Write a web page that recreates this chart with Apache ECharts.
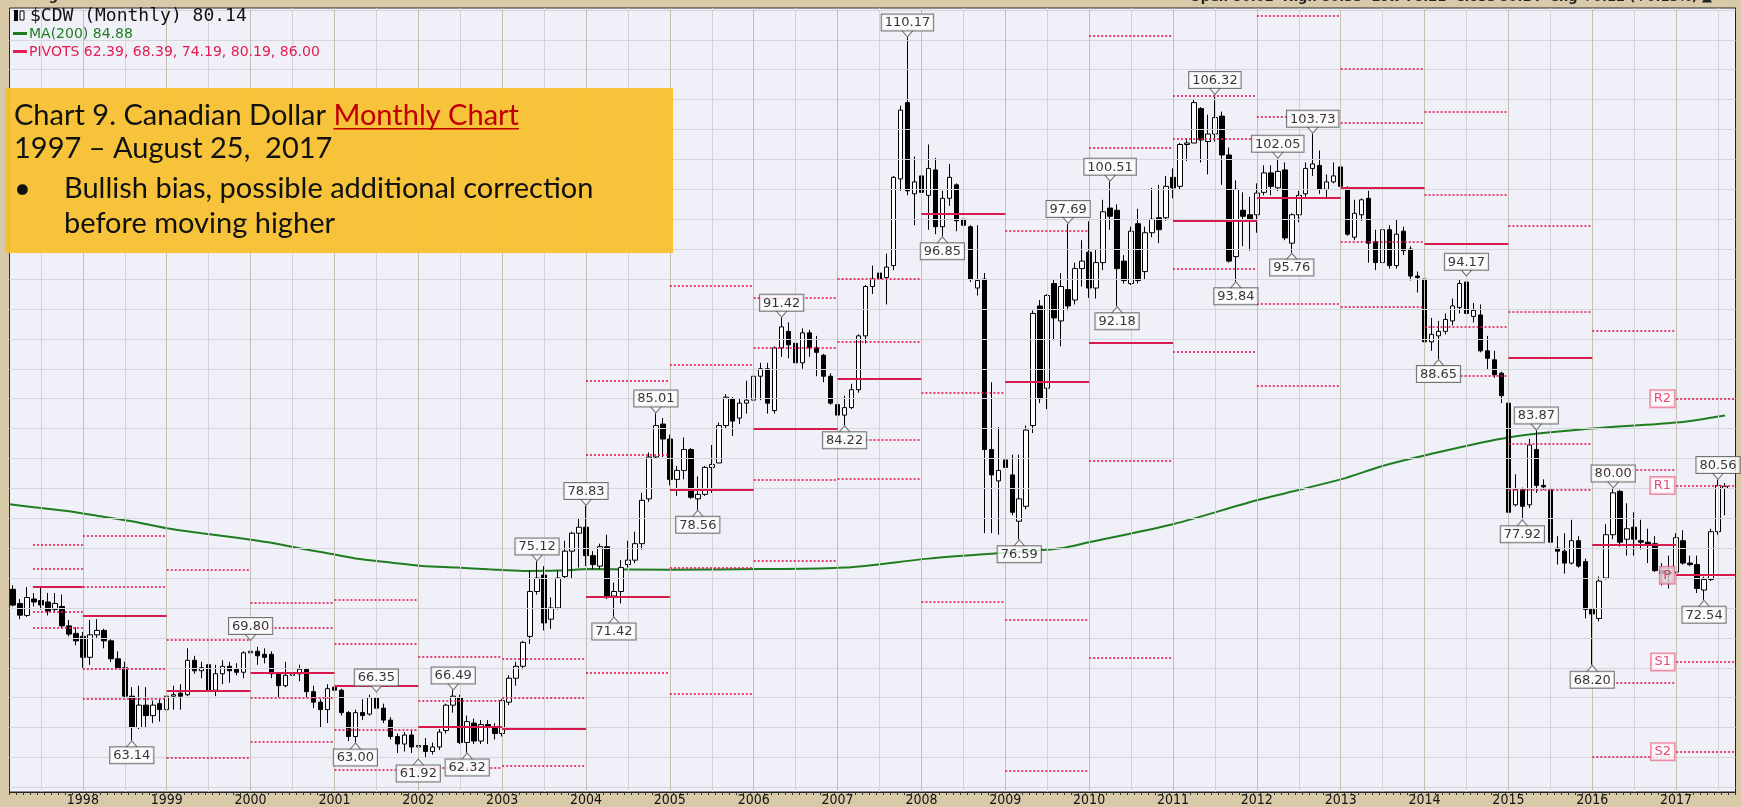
<!DOCTYPE html>
<html>
<head>
<meta charset="utf-8">
<title>$CDW Monthly</title>
<script src="https://cdn.jsdelivr.net/npm/echarts@6/dist/echarts.min.js"></script>
<style>
  html, body { margin: 0; padding: 0; background: #d8c9a8; }
  #chart { width: 1741px; height: 807px; }
</style>
</head>
<body>
<div id="chart"></div>
<script>
// Monthly candles, Mar 1997 .. Aug 2017, one row per year
const opens = [
  73.25, 72.3, 71.5, 72.6, 72.5, 72.4, 71.9, 72.1, 70.8, 70.3,
  70.1, 68.7, 70.2, 70.5, 69.8, 68.6, 68.0, 66.1, 64.0, 65.5, 64.8, 65.6,
  65.2, 66.1, 66.3, 66.2, 68.5, 67.8, 68.2, 66.5, 67.6, 68.1, 67.9, 67.7,
  69.0, 69.1, 68.9, 68.9, 67.6, 66.8, 67.5, 67.6, 67.9, 66.4, 65.7, 65.2,
  66.7, 66.5, 65.0, 63.4, 65.0, 64.9, 66.0, 65.3, 64.5, 63.4, 62.9, 63.5,
  62.7, 62.8, 62.4, 62.7, 63.8, 65.5, 66.0, 63.0, 64.3, 63.1, 64.2, 64.0,
  63.6, 65.7, 67.3, 68.1, 70.1, 73.1, 74.2, 71.25, 72.0, 74.1, 75.8, 77.0,
  77.4, 75.5, 74.8, 76.1, 72.8, 73.1, 74.9, 75.2, 76.3, 79.3, 82.1, 84.3,
  83.3, 80.6, 81.2, 82.6, 79.3, 79.6, 81.4, 81.7, 84.2, 86.0, 84.7, 85.7,
  85.9, 87.5, 88.0, 85.2, 89.4, 90.5, 89.7, 88.4, 90.4, 89.4, 88.9, 87.5,
  85.6, 84.9, 85.4, 86.6, 90.2, 93.5, 94.4, 94.1, 94.9, 100.7, 105.8, 99.7,
  100.9, 99.6, 101.3, 97.5, 99.4, 100.3, 98.0, 97.5, 93.4, 94.0, 82.6, 80.5,
  81.9, 80.9, 77.8, 78.8, 84.2, 92.2, 86.7, 93.7, 91.2, 93.3, 92.6, 94.7,
  95.8, 93.4, 95.1, 98.75, 98.6, 95.2, 93.7, 97.7, 94.5, 97.1, 98.1, 98.1,
  100.8, 100.2, 103.0, 103.1, 105.4, 103.2, 103.7, 104.9, 102.3, 95.5, 98.6, 98.3,
  98.3, 99.8, 101.1, 100.1, 101.3, 96.4, 98.3, 99.7, 101.4, 101.6, 100.0, 100.5,
  101.5, 100.1, 96.8, 98.3, 99.4, 96.5, 95.1, 97.3, 94.9, 97.2, 96.0, 94.2,
  94.0, 89.8, 90.2, 90.5, 91.2, 92.1, 93.8, 91.5, 91.6, 89.2, 88.6, 87.7,
  85.7, 78.9, 79.9, 78.9, 82.6, 80.2, 79.9, 76.0, 75.8, 75.0, 76.5, 75.1,
  71.9, 71.3, 74.0, 76.9, 79.8, 76.6, 77.4, 76.5, 76.4, 76.3, 74.5, 74.3,
  74.4, 76.5, 75.0, 74.9, 73.2, 73.9, 77.1, 80.0
];
const highs = [
  73.52, 72.6, 73.4, 73.0, 73.4, 73.0, 73.0, 72.9, 71.2, 70.7,
  70.4, 71.2, 71.25, 70.6, 69.9, 69.1, 68.4, 66.7, 66.8, 66.7, 65.8, 65.9,
  66.4, 66.8, 66.9, 69.3, 68.8, 68.4, 68.5, 68.2, 68.5, 68.4, 68.3, 69.1,
  69.8, 69.4, 69.3, 69.1, 67.7, 68.4, 68.3, 68.2, 68.0, 66.8, 65.9, 66.9,
  67.0, 66.6, 65.1, 65.2, 65.9, 66.2, 66.35, 65.6, 64.7, 63.6, 63.7, 63.8,
  63.2, 63.3, 63.0, 63.9, 65.6, 66.49, 66.2, 64.8, 64.6, 64.5, 64.5, 64.3,
  65.9, 67.5, 68.4, 69.8, 74.5, 75.12, 74.8, 72.7, 74.5, 76.5, 77.1, 78.0,
  78.83, 75.8, 76.3, 76.9, 73.7, 75.2, 76.5, 77.1, 79.7, 82.4, 85.01, 84.7,
  83.6, 81.5, 83.4, 82.7, 80.8, 81.5, 82.9, 84.4, 86.3, 86.1, 86.0, 87.2,
  87.7, 88.4, 88.4, 89.5, 91.42, 91.1, 90.2, 90.7, 90.6, 90.2, 89.0, 87.7,
  85.9, 86.2, 87.0, 90.3, 93.6, 94.9, 96.7, 95.7, 100.9, 105.6, 110.17, 102.2,
  101.4, 103.0, 102.1, 99.9, 101.7, 100.4, 100.2, 97.6, 97.6, 94.4, 87.1, 84.1,
  85.1, 82.25, 82.25, 84.2, 91.9, 92.6, 92.99, 94.0, 94.4, 97.69, 95.1, 96.6,
  97.86, 96.0, 99.3, 100.51, 99.0, 95.6, 97.5, 98.7, 97.5, 100.1, 100.3, 100.9,
  101.4, 103.1, 103.4, 106.0, 105.5, 105.0, 106.32, 105.2, 102.8, 100.6, 99.8, 99.5,
  100.4, 101.6, 101.6, 102.05, 101.8, 98.4, 99.9, 101.8, 103.73, 102.6, 101.0, 101.8,
  102.0, 100.2, 99.3, 99.4, 99.9, 97.3, 97.4, 97.6, 98.0, 97.5, 96.2, 94.5,
  94.5, 91.4, 91.2, 91.7, 92.7, 94.0, 94.17, 92.4, 92.3, 90.2, 89.2, 87.8,
  86.0, 80.94, 80.05, 83.3, 83.87, 80.6, 80.05, 76.8, 77.0, 77.9, 76.8, 75.3,
  72.0, 74.1, 77.6, 80.0, 79.9, 79.0, 78.4, 77.9, 77.3, 76.8, 75.0, 75.5,
  77.0, 77.2, 75.5, 75.5, 74.1, 77.3, 80.56, 80.35
];
const lows = [
  72.1, 71.25, 71.4, 72.1, 71.9, 71.5, 71.7, 70.7, 70.1, 69.5,
  68.0, 68.2, 70.0, 69.3, 68.4, 67.9, 66.0, 63.14, 63.9, 64.0, 64.3, 64.4,
  64.8, 65.2, 65.2, 66.1, 67.6, 67.3, 65.9, 66.1, 66.9, 67.0, 67.5, 67.3,
  68.4, 68.2, 68.3, 67.3, 66.0, 66.7, 66.9, 67.1, 66.0, 65.3, 64.0, 64.3,
  65.6, 64.8, 63.1, 63.0, 64.5, 64.8, 65.0, 64.3, 63.2, 62.3, 62.4, 62.3,
  61.92, 62.0, 62.2, 62.5, 63.6, 65.0, 62.9, 62.32, 62.9, 62.9, 62.9, 63.2,
  63.4, 65.5, 66.8, 67.9, 69.6, 72.9, 70.5, 70.6, 71.9, 74.0, 74.0, 74.7,
  74.8, 74.6, 74.6, 72.6, 71.42, 72.3, 74.7, 75.0, 75.9, 79.1, 82.0, 82.1,
  80.2, 79.5, 80.6, 79.3, 78.56, 79.5, 79.7, 81.7, 84.0, 83.5, 84.3, 85.0,
  84.8, 85.9, 85.0, 85.0, 88.8, 88.7, 87.3, 88.0, 88.8, 87.5, 87.1, 85.6,
  84.5, 84.22, 85.3, 86.4, 89.7, 93.0, 93.0, 92.3, 94.6, 99.9, 99.6, 97.6,
  96.8, 97.3, 97.0, 96.85, 98.9, 97.2, 96.9, 93.8, 92.9, 77.0, 77.0, 76.9,
  78.4, 78.2, 76.59, 78.6, 83.7, 85.7, 85.3, 89.9, 89.5, 91.9, 92.3, 93.5,
  92.74, 92.7, 94.6, 97.3, 92.18, 93.7, 93.6, 93.7, 93.96, 96.8, 96.4, 97.9,
  99.4, 99.97, 101.9, 103.1, 101.8, 101.0, 103.2, 100.3, 95.1, 93.84, 96.2, 95.9,
  97.1, 99.6, 99.6, 99.9, 96.6, 95.76, 97.8, 99.5, 100.9, 99.7, 99.4, 100.4,
  99.97, 96.9, 96.6, 97.9, 95.1, 94.6, 94.8, 94.7, 94.7, 95.6, 93.9, 93.1,
  89.1, 89.2, 88.65, 90.3, 90.9, 91.7, 91.6, 91.1, 89.1, 87.95, 87.4, 85.7,
  78.15, 78.8, 77.92, 78.7, 79.7, 79.9, 76.26, 74.9, 74.3, 74.9, 74.7, 71.3,
  68.2, 71.1, 73.9, 76.6, 76.1, 75.5, 75.5, 75.9, 75.0, 74.4, 73.5, 73.3,
  74.3, 74.9, 74.8, 73.0, 72.54, 73.8, 76.9, 78.2
];
const closes = [
  72.19, 71.52, 72.7, 72.4, 72.2, 71.8, 72.3, 70.8, 70.25, 69.8,
  68.7, 70.2, 70.5, 69.8, 68.6, 68.0, 66.1, 64.0, 65.5, 64.8, 65.5, 65.2,
  66.1, 66.2, 66.1, 68.5, 67.8, 68.0, 66.5, 67.6, 68.1, 67.8, 67.7, 69.0,
  69.1, 68.8, 68.7, 67.6, 66.8, 67.5, 67.6, 67.9, 66.4, 65.7, 65.2, 66.6,
  66.5, 65.0, 63.4, 65.0, 64.8, 66.0, 65.3, 64.5, 63.4, 62.9, 63.5, 62.7,
  62.8, 62.4, 62.7, 63.7, 65.5, 66.1, 63.0, 64.4, 63.1, 64.2, 64.0, 63.6,
  65.8, 67.3, 68.1, 69.7, 73.1, 74.0, 71.0, 72.0, 74.0, 75.8, 77.0, 77.4,
  75.5, 74.9, 76.1, 72.8, 73.1, 74.7, 75.2, 76.3, 79.2, 82.1, 84.2, 83.3,
  80.6, 81.2, 82.6, 79.4, 79.6, 81.4, 81.6, 84.2, 86.1, 84.5, 85.7, 85.9,
  87.5, 88.0, 85.7, 89.4, 90.8, 89.6, 88.4, 90.4, 89.4, 89.1, 87.5, 85.7,
  84.9, 85.4, 86.6, 90.2, 93.5, 94.0, 94.0, 94.8, 100.8, 105.3, 99.9, 100.5,
  99.8, 101.4, 97.5, 99.4, 100.8, 97.9, 97.6, 94.0, 93.9, 82.6, 80.9, 81.2,
  81.4, 78.4, 79.3, 83.9, 91.7, 86.0, 92.9, 91.4, 93.5, 92.2, 94.7, 95.2,
  93.4, 95.1, 98.5, 98.2, 94.7, 93.9, 97.2, 93.9, 97.1, 98.0, 97.3, 100.2,
  100.1, 103.0, 103.1, 105.8, 103.3, 103.7, 104.8, 102.3, 95.2, 100.0, 98.2, 97.9,
  99.75, 101.1, 100.2, 101.2, 96.75, 98.3, 99.6, 101.4, 101.7, 100.0, 100.5, 100.9,
  100.2, 97.0, 98.4, 99.3, 96.4, 95.1, 97.3, 94.9, 97.0, 95.9, 94.2, 94.1,
  89.8, 90.3, 90.5, 91.3, 92.2, 93.7, 91.7, 91.9, 89.2, 88.7, 87.6, 86.2,
  78.4, 79.9, 78.8, 82.9, 80.2, 80.1, 76.4, 75.8, 75.0, 76.5, 74.8, 71.9,
  71.6, 73.8, 76.9, 79.7, 76.4, 77.3, 76.6, 76.4, 76.2, 74.5, 74.3, 74.4,
  76.7, 75.0, 74.9, 73.3, 73.9, 77.1, 80.2, 80.14
];

// MA(200) line, read at these month indexes (0 = Jan 1997)
const maMonths = [1.5, 5, 10, 14.5, 19, 24, 29, 33.5, 38.5, 43, 46.5, 51, 56, 60.5, 65.5, 70, 75, 80, 84.5,
  96, 109, 121, 133, 144, 152, 156, 168, 180, 192, 198, 204, 216, 228, 240, 247];
const maValues = [78.93, 78.73, 78.47, 78.13, 77.8, 77.33, 77.0, 76.73, 76.39, 75.99, 75.71, 75.31, 75.04, 74.81, 74.7, 74.59, 74.48, 74.5, 74.6,
  74.55, 74.6, 74.7, 75.3, 75.7, 76.0, 76.4, 77.6, 79.2, 80.6, 81.5, 82.2, 83.4, 84.0, 84.4, 84.88];

// yearly pivot levels (null = off the chart)
const pivotYears = [1997, 1998, 1999, 2000, 2001, 2002, 2003, 2004, 2005, 2006, 2007,
  2008, 2009, 2010, 2011, 2012, 2013, 2014, 2015, 2016, 2017];
const pivotR2 = [76.26, 76.82, 74.55, 72.32, 72.52, 68.76, 68.58, 87.22, 93.52, 92.77, 94.00,
  null, null, 110.3, 106.27, 111.6, 108.06, 105.16, 97.57, 90.51, 86.00];
const pivotR1 = [74.64, 73.41, 69.87, 70.66, 69.58, 65.79, 66.02, 82.23, 88.29, 89.40, 89.83,
  null, 97.20, 102.80, 103.40, 104.83, 104.43, 99.64, 91.80, 81.27, 80.19];
const pivotP = [73.41, 71.45, 66.46, 67.69, 66.80, 64.06, 63.90, 72.74, 79.93, 83.99, 87.31,
  98.37, 87.10, 89.73, 97.90, 99.47, 100.13, 96.37, 88.73, 76.26, 74.19];
const pivotS1 = [71.74, 67.91, 61.95, 66.02, 63.84, 61.30, 61.45, 67.69, 74.70, 80.60, 83.22,
  86.41, 71.20, 81.83, 94.68, 92.36, 96.48, 90.84, 82.99, 67.02, 68.39];
const pivotS2 = [70.66, 65.91, null, 63.05, 61.18, null, null, null, 66.29, 75.14, 80.66,
  72.42, 61.10, 68.66, 89.17, 86.88, 92.18, 87.55, 79.89, 62.05, 62.39];

// labelled highs and lows: month index, value
const peakMonths = [130, 174, 188, 183, 159, 153, 210, 112, 94, 220, 246, 231, 84, 77, 36, 65, 54];
const peakValues = [110.17, 106.32, 103.73, 102.05, 100.51, 97.69, 94.17, 91.42, 85.01, 83.87, 80.56, 80.00, 78.83, 75.12, 69.80, 66.49, 66.35];
const troughMonths = [135, 185, 177, 160, 206, 121, 100, 218, 146, 244, 88, 228, 19, 51, 67, 60];
const troughValues = [96.85, 95.76, 93.84, 92.18, 88.65, 84.22, 78.56, 77.92, 76.59, 72.54, 71.42, 68.20, 63.14, 63.00, 62.32, 61.92];

const pivotTags = ["R2", "R1", "P", "S1", "S2"];

const START_YEAR = 1997;
const FIRST_MONTH = 2;   // Mar 1997
const LAST_SLOT = 248;   // one empty slot after Aug 2017

const monthLabels = [];
for (let m = FIRST_MONTH; m <= LAST_SLOT; m++) {
  const y = START_YEAR + Math.floor(m / 12);
  monthLabels.push(y + "-" + String((m % 12) + 1).padStart(2, "0"));
}

const candles = opens.map((o, i) => [o, closes[i], lows[i], highs[i]]);

const RED = "#e31b50";
const dotted = { color: RED, width: 1.6, type: [2, 2] };
const solid = { color: "#d81b4c", width: 2, type: "solid" };

const pivotSegments = [];
const levelSets = [pivotR2, pivotR1, pivotP, pivotS1, pivotS2];
pivotYears.forEach((year, i) => {
  const start = year === 1997 ? 4.86 : (year - 1997) * 12;
  const end = Math.min((year - 1997 + 1) * 12, 248.5);
  levelSets.forEach((set, k) => {
    const v = set[i];
    if (v == null) return;
    pivotSegments.push([
      { coord: [start, v], lineStyle: k === 2 ? solid : dotted },
      { coord: [end, v] }
    ]);
  });
});

const gridLines = [];
for (let v = 60; v <= 112; v += 2) {
  gridLines.push({ yAxis: v, lineStyle: { color: "#d6d6de", width: 1, type: "solid" } });
}
for (let m = 6; m <= 246; m += 6) {
  gridLines.push({ xAxis: m, lineStyle: { color: m % 12 === 0 ? "#c6c0b2" : "#d3d2d6", width: 1, type: "solid" } });
}

const valueLabel = {
  show: true,
  fontFamily: "DejaVu Sans",
  fontSize: 13,
  color: "#000",
  backgroundColor: "#fff",
  borderColor: "#555",
  borderWidth: 1,
  padding: [2, 3, 1, 3],
  distance: -1,
  formatter: (p) => p.value[1].toFixed(2)
};

const annotations = [];
peakMonths.forEach((m, i) => annotations.push({
  value: [m, peakValues[i]],
  symbolRotate: 180,
  symbolOffset: [0, -4],
  label: { ...valueLabel, position: "top" }
}));
troughMonths.forEach((m, i) => annotations.push({
  value: [m, troughValues[i]],
  symbolOffset: [0, 4],
  label: { ...valueLabel, position: "bottom" }
}));

const lastPivots = levelSets.map((set) => set[set.length - 1]);
const pivotLabelData = lastPivots.map((v, k) => ({
  value: [240, v],
  label: {
    show: true,
    position: "left",
    distance: 2,
    formatter: pivotTags[k],
    fontFamily: "DejaVu Sans",
    fontSize: 13,
    color: RED,
    backgroundColor: k === 2 ? "#d4ced2" : "#fff",
    borderColor: "#ec7090",
    borderWidth: 1.5,
    padding: [2, 3, 1, 3]
  }
}));

// text widths for the note box underline
const measureCtx = document.createElement("canvas").getContext("2d");
function textWidth(text, font) {
  measureCtx.font = font;
  return measureCtx.measureText(text).width;
}
const noteFont = "29px Lato";
const noteLeft = 14;
const leadText = "Chart 9. Canadian Dollar ";
const linkText = "Monthly Chart";
const leadWidth = textWidth(leadText, noteFont);
const linkWidth = textWidth(linkText, noteFont);

const legendFont = "14px 'DejaVu Sans'";

const chart = echarts.init(document.getElementById("chart"), null, { renderer: "canvas" });

chart.setOption({
  animation: false,
  backgroundColor: "#d8c9a8",
  grid: {
    left: 9.5,
    right: 5.5,
    top: 8,
    bottom: 14,
    show: true,
    backgroundColor: "#eff0f8",
    borderColor: "#2a2a2a",
    borderWidth: 1
  },
  xAxis: [
    {
      type: "category",
      data: monthLabels,
      boundaryGap: true,
      axisLine: { show: true, lineStyle: { color: "#222" } },
      axisTick: { show: true, interval: 0, length: 3, lineStyle: { color: "#333" } },
      axisLabel: {
        interval: (idx, value) => value.endsWith("-01"),
        formatter: (value) => value.slice(0, 4),
        margin: 1,
        fontFamily: "'DejaVu Sans Condensed', 'DejaVu Sans', sans-serif",
        fontSize: 14,
        color: "#111"
      },
      splitLine: { show: false }
    },
    {
      type: "value",
      min: 1.5,
      max: 248.5,
      show: false
    }
  ],
  yAxis: {
    type: "value",
    position: "right",
    min: 59.69,
    max: 112.13,
    axisLine: { show: true, lineStyle: { color: "#222" } },
    axisTick: { show: false },
    axisLabel: { show: false },
    splitLine: { show: false }
  },
  series: [
    {
      name: "grid",
      type: "line",
      xAxisIndex: 1,
      data: [],
      z: 1,
      silent: true,
      markLine: {
        silent: true,
        symbol: ["none", "none"],
        animation: false,
        label: { show: false },
        data: gridLines
      }
    },
    {
      name: "PIVOTS",
      type: "line",
      xAxisIndex: 1,
      data: [],
      z: 2,
      silent: true,
      markLine: {
        silent: true,
        symbol: ["none", "none"],
        animation: false,
        label: { show: false },
        data: pivotSegments
      }
    },
    {
      name: "MA(200)",
      type: "line",
      xAxisIndex: 1,
      data: maMonths.map((m, i) => [m, maValues[i]]),
      showSymbol: false,
      smooth: 0.3,
      lineStyle: { color: "#1f7d1f", width: 2 },
      z: 3
    },
    {
      name: "$CDW",
      type: "candlestick",
      xAxisIndex: 0,
      data: candles,
      barWidth: 5,
      z: 4,
      itemStyle: {
        color: "#ffffff",
        color0: "#000000",
        borderColor: "#000000",
        borderColor0: "#000000",
        borderColorDoji: "#000000",
        borderWidth: 1
      }
    },
    {
      name: "pivot tags",
      type: "scatter",
      xAxisIndex: 1,
      symbolSize: 0,
      z: 5,
      data: pivotLabelData
    },
    {
      name: "highs lows",
      type: "scatter",
      xAxisIndex: 1,
      symbol: "triangle",
      symbolSize: [12, 7],
      itemStyle: { color: "#fff", borderColor: "#555", borderWidth: 1 },
      z: 6,
      data: annotations
    }
  ],
  graphic: [
    // header line, mostly cut off by the top edge
    { type: "text", x: 6, y: -3, z: 50, style: { text: "25-Aug-2017", font: "bold 13px 'DejaVu Sans'", fill: "#222", verticalAlign: "middle" } },
    { type: "text", x: 1712, y: -2, z: 50, style: { text: "Open 80.02  High 80.35  Low 78.21  Close 80.14  Chg +0.12 (+0.15%) \u25B2", font: "bold 13px 'DejaVu Sans'", fill: "#222", align: "right", verticalAlign: "middle" } },

    // legend
    { type: "rect", z: 50, shape: { x: 14, y: 10, width: 4, height: 11 }, style: { fill: "#000" } },
    { type: "rect", z: 50, shape: { x: 20, y: 11, width: 4, height: 9 }, style: { fill: "#fff", stroke: "#000", lineWidth: 1 } },
    { type: "text", x: 30, y: 16, z: 50, style: { text: "$CDW (Monthly) 80.14", font: "18px 'DejaVu Sans Mono'", fill: "#111", verticalAlign: "middle" } },
    { type: "rect", z: 50, shape: { x: 13, y: 32, width: 14, height: 3 }, style: { fill: "#1f7d1f" } },
    { type: "text", x: 29, y: 34, z: 50, style: { text: "MA(200) 84.88", font: legendFont, fill: "#1f7d1f", verticalAlign: "middle" } },
    { type: "rect", z: 50, shape: { x: 13, y: 50, width: 14, height: 3 }, style: { fill: RED } },
    { type: "text", x: 29, y: 52, z: 50, style: { text: "PIVOTS 62.39, 68.39, 74.19, 80.19, 86.00", font: legendFont, fill: RED, verticalAlign: "middle" } },

    // note box
    { type: "rect", z: 60, shape: { x: 5, y: 88, width: 668, height: 165 }, style: { fill: "#f7bf2e", opacity: 0.94 } },
    { type: "text", x: noteLeft, y: 116, z: 61, style: { text: leadText, font: noteFont, fill: "#111", verticalAlign: "middle" } },
    { type: "text", x: noteLeft + leadWidth, y: 116, z: 61, style: { text: linkText, font: noteFont, fill: "#c00000", verticalAlign: "middle" } },
    { type: "rect", z: 61, shape: { x: noteLeft + leadWidth, y: 128, width: linkWidth, height: 1.5 }, style: { fill: "#c00000" } },
    { type: "text", x: noteLeft, y: 149, z: 61, style: { text: "1997 \u2013 August 25,  2017", font: noteFont, fill: "#111", verticalAlign: "middle" } },
    { type: "text", x: noteLeft, y: 189, z: 61, style: { text: "\u2022", font: noteFont, fill: "#111", verticalAlign: "middle" } },
    { type: "text", x: 64, y: 189, z: 61, style: { text: "Bullish bias, possible additional correction", font: noteFont, fill: "#111", verticalAlign: "middle" } },
    { type: "text", x: 64, y: 224, z: 61, style: { text: "before moving higher", font: noteFont, fill: "#111", verticalAlign: "middle" } }
  ]
});
</script>
</body>
</html>
